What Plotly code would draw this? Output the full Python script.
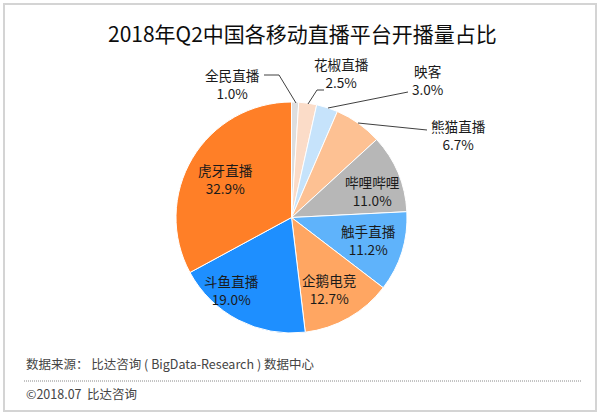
import plotly.graph_objects as go

W, H = 600, 415
FONT = "Noto Sans CJK SC"

platforms = ["全民直播", "花椒直播", "映客", "熊猫直播", "哔哩哔哩", "触手直播", "企鹅电竞", "斗鱼直播", "虎牙直播"]
shares = [1.0, 2.5, 3.0, 6.7, 11.0, 11.2, 12.7, 19.0, 32.9]
colors = ["#dedede", "#fbdcc8", "#c6e3fb", "#fdc193", "#b7b7b7", "#5fb3fb", "#ffa662", "#1e8fff", "#ff7f27"]

# label centres in page pixels
label_pos = [(232, 84), (342, 73), (427, 80), (458, 135), (372, 191), (368, 240), (329, 289), (231, 290), (225, 179)]
leaders = [
    [(264, 75), (279, 75), (296, 103)],
    [(308, 104), (317, 90), (324, 90)],
    [(328, 108), (408, 92)],
    [(358, 123), (427, 130)],
]


def px(x):
    return x / W


def py(y):
    return 1 - y / H


fig = go.Figure(go.Pie(
    labels=platforms,
    values=shares,
    sort=False,
    direction="clockwise",
    rotation=0,
    marker=dict(colors=colors, line=dict(color="white", width=1)),
    textinfo="none",
    hoverinfo="label+percent",
    domain=dict(x=[px(176), px(407)], y=[py(333), py(102)]),
    showlegend=False,
))

annotations = []


def add_text(x, y, text, size=14, color="#1a1a1a", anchor="center"):
    annotations.append(dict(x=px(x), y=py(y), xref="paper", yref="paper", text=text, showarrow=False,
                            xanchor=anchor, yanchor="middle", align=anchor,
                            font=dict(family=FONT, size=size, color=color)))


add_text(302, 33, "2018年Q2中国各移动直播平台开播量占比", size=21, color="#0d0d0d")
for name, val, (x, y) in zip(platforms, shares, label_pos):
    add_text(x, y, f"{name}<br>{val:.1f}%", size=13.6)
add_text(24, 363, "数据来源： 比达咨询 ( BigData-Research ) 数据中心", size=12.5, color="#444444", anchor="left")
add_text(24, 393, "©2018.07  比达咨询", size=12.5, color="#444444", anchor="left")

shapes = [
    dict(type="rect", xref="paper", yref="paper", x0=px(4), x1=px(596), y0=py(411), y1=py(4),
         line=dict(color="#d4d4d4", width=2), fillcolor="rgba(0,0,0,0)"),
    dict(type="line", xref="paper", yref="paper", x0=px(24), x1=px(581), y0=py(381), y1=py(381),
         line=dict(color="#888888", width=1, dash="1px,1px")),
]
for pts in leaders:
    for a, b in zip(pts, pts[1:]):
        shapes.append(dict(type="line", xref="paper", yref="paper", x0=px(a[0]), y0=py(a[1]), x1=px(b[0]), y1=py(b[1]),
                           line=dict(color="#404040", width=1)))

fig.update_layout(width=W, height=H, margin=dict(l=0, r=0, t=0, b=0), paper_bgcolor="white",
                  annotations=annotations, shapes=shapes)

# page has a default 8px body margin which would push the chart off the window
fig.write_html("out.html", config={"displayModeBar": False},
               post_script="document.body.style.margin='0';document.documentElement.style.overflow='hidden';")
